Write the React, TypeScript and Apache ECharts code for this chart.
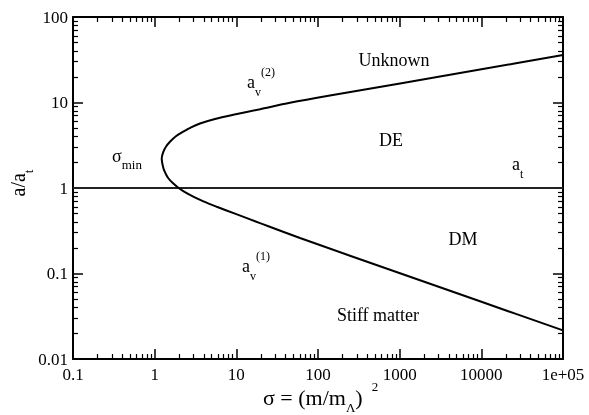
import React, { useEffect, useRef } from "react";
import * as echarts from "echarts";

// Curve a_v(sigma): upper branch a_v^(2) (from large sigma down to sigma_min), then lower branch a_v^(1)
const sigmaValues = [
  1e5, 9630, 1010, 140, 45.4, 19.5, 9.18, 5.48, 3.59, 2.79, 2.24, 1.82, 1.54, 1.38, 1.28, 1.22,
  1.28, 1.36, 1.47, 1.68, 1.95, 2.35, 2.97, 4.02, 5.75, 9.63, 19.5, 60.2, 1010, 9630, 1e5,
];
const aValues = [
  35.9, 24.3, 16.7, 12.07, 9.92, 8.35, 7.18, 6.41, 5.68, 5.13, 4.56, 4.03, 3.48, 3.06, 2.66, 2.23,
  1.7, 1.48, 1.3, 1.135, 1.008, 0.893, 0.791, 0.692, 0.604, 0.501, 0.388, 0.26, 0.1005, 0.0473, 0.0216,
];

// Horizontal line a = a_t
const atLevel = 1;
const xRange = [0.1, 1e5];
const yRange = [0.01, 100];

const xTickLabels = ["0.1", "1", "10", "100", "1000", "10000", "1e+05"];
const yTickLabels = ["0.01", "0.1", "1", "10", "100"];

const SERIF = '"Liberation Serif", "DejaVu Serif", serif';

function plain(text: string, x: number, y: number, size: number, align = "center") {
  return {
    type: "text",
    x,
    y,
    silent: true,
    style: {
      text,
      fontSize: size,
      fontFamily: SERIF,
      fill: "#000",
      align,
      verticalAlign: "middle",
      textAlign: align,
      textVerticalAlign: "middle",
    },
  };
}

function rich(
  text: string,
  x: number,
  y: number,
  base: number,
  small: number,
  L: number,
  align = "left",
  rotation = 0,
  supLH = small,
  supPad = 0
) {
  return {
    type: "text",
    x,
    y,
    rotation,
    silent: true,
    style: {
      text,
      fontFamily: SERIF,
      fill: "#000",
      align,
      verticalAlign: "middle",
      textAlign: align,
      textVerticalAlign: "middle",
      rich: {
        b: { fontSize: base, fontFamily: SERIF, fill: "#000", lineHeight: L, verticalAlign: "middle" },
        sub: { fontSize: small, fontFamily: SERIF, fill: "#000", lineHeight: small, verticalAlign: "bottom" },
        sup: {
          fontSize: small,
          fontFamily: SERIF,
          fill: "#000",
          lineHeight: supLH,
          verticalAlign: "top",
          padding: [0, 0, 0, supPad],
        },
      },
    },
  };
}

export default function App() {
  const ref = useRef<HTMLDivElement>(null);
  useEffect(() => {
    if (!ref.current) return;
    const chart = echarts.init(ref.current, null, { renderer: "svg" });
    const axisCommon = (show: boolean) => ({
      type: "log",
      logBase: 10,
      axisLine: { show: true, onZero: false, lineStyle: { color: "#000", width: 2 } },
      axisTick: { show: true, inside: true, length: 10, lineStyle: { color: "#000", width: 1.5 } },
      minorTick: { show: true, splitNumber: 9, length: 5, lineStyle: { color: "#000", width: 1.2 } },
      splitLine: { show: false },
      minorSplitLine: { show: false },
      axisLabel: { show },
    });
    const xLab = (v: number) => xTickLabels[Math.round(Math.log10(v)) + 1] ?? "";
    const yLab = (v: number) => yTickLabels[Math.round(Math.log10(v)) + 2] ?? "";
    chart.setOption({
      animation: false,
      grid: { left: 73, top: 17, right: 26, bottom: 56, containLabel: false },
      xAxis: [
        {
          ...axisCommon(true),
          position: "bottom",
          min: xRange[0],
          max: xRange[1],
          axisLabel: { show: true, formatter: xLab, color: "#000", fontFamily: SERIF, fontSize: 17, margin: 7, showMinLabel: true, showMaxLabel: true },
        },
        { ...axisCommon(false), position: "top", min: xRange[0], max: xRange[1] },
      ],
      yAxis: [
        {
          ...axisCommon(true),
          position: "left",
          min: yRange[0],
          max: yRange[1],
          axisLabel: { show: true, formatter: yLab, color: "#000", fontFamily: SERIF, fontSize: 17, margin: 5, showMinLabel: true, showMaxLabel: true },
        },
        { ...axisCommon(false), position: "right", min: yRange[0], max: yRange[1] },
      ],
      series: [
        {
          type: "line",
          data: [
            [xRange[0], atLevel],
            [xRange[1], atLevel],
          ],
          symbol: "none",
          lineStyle: { color: "#222", width: 1.8 },
          z: 2,
        },
        {
          type: "line",
          data: sigmaValues.map((s, i) => [s, aValues[i]]),
          symbol: "none",
          showSymbol: false,
          smooth: 0.3,
          lineStyle: { color: "#000", width: 2 },
          z: 3,
        },
      ],
      graphic: [
        plain("Unknown", 394, 60, 18),
        plain("DE", 391, 140, 18),
        plain("DM", 463, 239, 18),
        plain("Stiff matter", 378, 315, 18),
        rich("{b|a}{sub|t}", 512, 164, 18, 12, 32),
        rich("{b|a}{sub|v}{sup|(2)}", 247, 82, 18, 12, 32),
        rich("{b|a}{sub|v}{sup|(1)}", 242, 266, 18, 12, 32),
        rich("{b|σ}{sub|min}", 112, 156, 18, 13, 29),
        rich("{b|σ = (m/m}{sub|Λ}{b|)}{sup|2}", 263, 397, 22, 13, 34, "left", 0, 6, 9),
        rich("{b|a/a}{sub|t}", 18, 183, 20, 13, 34, "center", Math.PI / 2),
      ],
    });
    return () => chart.dispose();
  }, []);
  return <div ref={ref} style={{ position: "fixed", left: 0, top: 0, width: 589, height: 415 }} />;
}
